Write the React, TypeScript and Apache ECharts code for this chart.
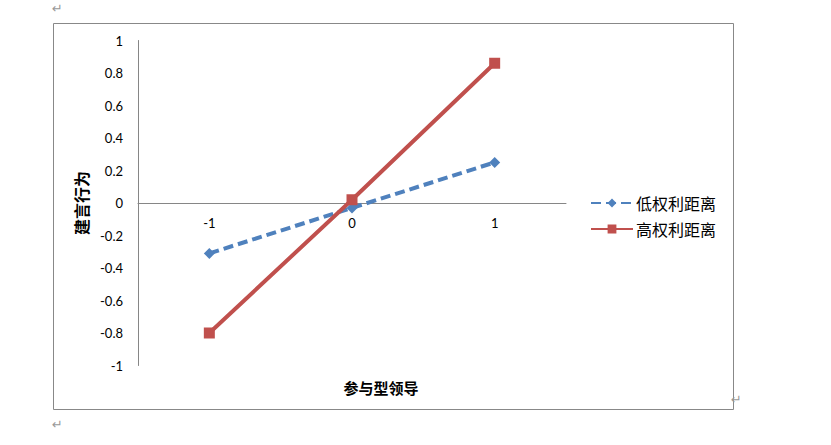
import React, { useEffect, useRef } from "react";
import * as echarts from "echarts";

const categories = ["-1", "0", "1"];
const lowPowerDistance = [-0.31, -0.03, 0.25];
const highPowerDistance = [-0.8, 0.02, 0.86];
const seriesNames = ["低权利距离", "高权利距离"];
const yAxisName = "建言行为";
const xAxisName = "参与型领导";

export default function App() {
  const ref = useRef<HTMLDivElement>(null);
  useEffect(() => {
    document.body.style.margin = "0";
    const chart = echarts.init(ref.current!, null, { renderer: "svg" });
    const latin = "Lato, 'Noto Sans', sans-serif";
    const cjk = "'Noto Sans CJK SC', sans-serif";
    chart.setOption({
      animation: false,
      backgroundColor: "#ffffff",
      grid: { left: 138, top: 40.5, width: 428, height: 325 },
      xAxis: {
        type: "category",
        data: categories,
        boundaryGap: true,
        position: "bottom",
        offset: -162.5,
        axisLine: { onZero: false, lineStyle: { color: "#868686", width: 1 } },
        axisTick: { show: false },
        axisLabel: { color: "#000", fontSize: 13, fontFamily: latin, margin: 13, hideOverlap: false },
        splitLine: { show: false },
      },
      yAxis: {
        type: "value",
        min: -1,
        max: 1,
        interval: 0.2,
        name: yAxisName,
        nameLocation: "middle",
        nameRotate: 90,
        nameGap: 49,
        nameTextStyle: { color: "#000", fontSize: 16, fontWeight: "bold", fontFamily: cjk },
        axisLine: { show: true, lineStyle: { color: "#868686", width: 1 } },
        axisTick: { show: false },
        axisLabel: { color: "#000", fontSize: 13, fontFamily: latin, margin: 15 },
        splitLine: { show: false },
      },
      legend: {
        orient: "vertical",
        left: 585,
        top: 190,
        itemWidth: 42,
        itemHeight: 11,
        itemGap: 10,
        textStyle: { color: "#000", fontSize: 16, fontFamily: cjk, padding: [0, 0, 0, -2] },
        data: seriesNames,
      },
      series: [
        {
          name: seriesNames[0],
          type: "line",
          data: lowPowerDistance,
          symbol: "diamond",
          symbolSize: 11,
          lineStyle: { color: "#4F81BD", width: 4, type: [10, 5] },
          itemStyle: { color: "#4F81BD" },
        },
        {
          name: seriesNames[1],
          type: "line",
          data: highPowerDistance,
          symbol: "rect",
          symbolSize: 11,
          lineStyle: { color: "#C0504D", width: 4, type: "solid" },
          itemStyle: { color: "#C0504D" },
        },
      ],
      graphic: [
        {
          type: "rect",
          shape: { x: 53.5, y: 23.5, width: 680, height: 386 },
          style: { fill: "none", stroke: "#888888", lineWidth: 1 },
          silent: true,
        },
        {
          type: "text",
          x: 381,
          y: 387,
          style: {
            text: xAxisName,
            fill: "#000",
            fontSize: 15,
            fontWeight: "bold",
            fontFamily: cjk,
            align: "center",
            verticalAlign: "middle",
          },
        },
        {
          type: "text",
          x: 52,
          y: 2,
          style: { text: "↵", fill: "#999", fontSize: 13, fontFamily: "'DejaVu Sans', sans-serif" },
        },
        {
          type: "text",
          x: 52,
          y: 418,
          style: { text: "↵", fill: "#999", fontSize: 13, fontFamily: "'DejaVu Sans', sans-serif" },
        },
        {
          type: "text",
          x: 731,
          y: 393,
          style: { text: "↵", fill: "#999", fontSize: 13, fontFamily: "'DejaVu Sans', sans-serif" },
        },
      ],
    });
    return () => chart.dispose();
  }, []);
  return (
    <div
      ref={ref}
      style={{ position: "absolute", left: 0, top: 0, width: 831, height: 445 }}
    />
  );
}
